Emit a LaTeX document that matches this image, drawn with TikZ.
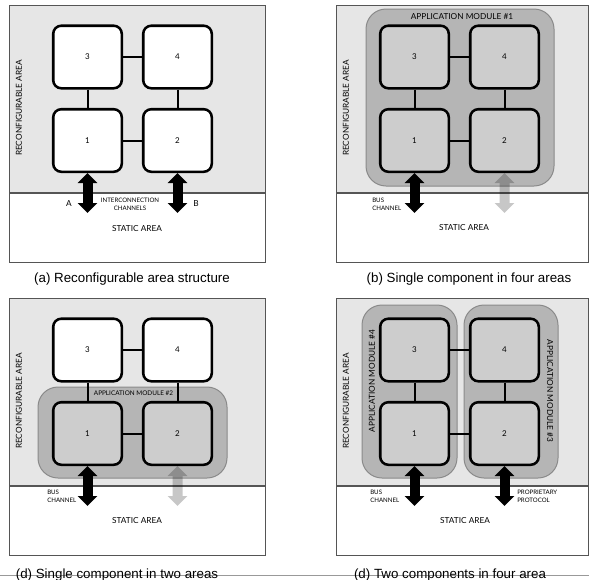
\documentclass[tikz,border=0pt]{standalone}
\usepackage{fontspec}
\setmainfont{Lato}
\newfontfamily\capfont{Liberation Sans}
\usetikzlibrary{arrows.meta}

\definecolor{areagray}{HTML}{E6E6E6}
\definecolor{modgray}{HTML}{B5B5B5}
\definecolor{cellgray}{HTML}{CDCDCD}
\definecolor{modline}{HTML}{8A8A8A}
\definecolor{frameline}{HTML}{555555}

\tikzset{
  cell/.style={draw=black, line width=1.9pt, rounded corners=6pt,
    minimum width=51.4pt, minimum height=46.9pt, inner sep=0pt,
    font=\fontsize{6}{7}\selectfont, fill=white},
  cellon/.style={fill=cellgray},
  link/.style={line width=1.5pt},
  module/.style={draw=modline, line width=0.75pt, fill=modgray,
    rounded corners=15pt, inner sep=0pt},
  bus/.style={line width=7.5pt,
    {Triangle[width=14.25pt,length=7.5pt]}-{Triangle[width=14.25pt,length=7.5pt]}},
  tag/.style={font=\fontsize{6.2}{7}\selectfont, inner sep=0pt},
  small/.style={font=\fontsize{4.6}{5.8}\selectfont, inner sep=0pt, align=left},
  caption/.style={font=\capfont\fontsize{10}{12}\selectfont, inner sep=0pt},
  areaframe/.style={draw=frameline, line width=0.75pt},
}

% frame of one panel: reconfigurable (top) and static (bottom) areas
\newcommand\areaframe[1]{%
  \fill[areagray] (9.5,5.5) rectangle (#1,193);
  \draw[areaframe] (9.5,5.5) rectangle (#1,262);
  \draw[frameline, line width=1pt] (9.5,193) -- (#1,193);
  \node[tag, rotate=90] at (19,108) {RECONFIGURABLE AREA};
}

% the four tiles and their links; #1 prefix, #2 style of 3/4, #3 style of 1/2
\newcommand\cellgrid[3]{%
  \node[cell,#2] (#1c3) at (87.5,57) {3};
  \node[cell,#2] (#1c4) at (177.5,57) {4};
  \node[cell,#3] (#1c1) at (87.5,140.5) {1};
  \node[cell,#3] (#1c2) at (177.5,140.5) {2};
  \draw[link] (#1c3) -- (#1c4);
  \draw[link] (#1c3) -- (#1c1);
  \draw[link] (#1c4) -- (#1c2);
  \draw[link] (#1c1) -- (#1c2);
  \coordinate (#1e1) at (87.5,213);
  \coordinate (#1e2) at (177.5,213);
}

\begin{document}
\begin{tikzpicture}[x=0.75pt, y=-0.75pt]
\useasboundingbox (0,0) rectangle (589,579);

% ---------------- (a) ----------------
\begin{scope}
  \areaframe{265}
  \cellgrid{a}{}{}
  \draw[bus] (ac1.south) -- (ae1);
  \draw[bus] (ac2.south) -- (ae2);
  \node[tag] at (69,204) {A};
  \node[tag] at (196,204) {B};
  \node[small, align=center] at (130,204.5) {INTERCONNECTION\\CHANNELS};
  \node[tag] at (137,229) {STATIC AREA};
\end{scope}
\node[caption] (capa) at (132,279) {(a) Reconfigurable area structure};

% ---------------- (b) ----------------
\begin{scope}[shift={(327,0)}]
  \areaframe{261}
  \node[module, minimum width=141pt, minimum height=132.75pt] (bmod) at (133,97.5) {};
  \node[tag] at (135,17) {APPLICATION MODULE \#1};
  \cellgrid{b}{cellon}{cellon}
  \draw[bus] (bc1.south) -- (be1);
  \begin{scope}[transparency group, opacity=0.22]
    \draw[bus] (bc2.south) -- (be2);
  \end{scope}
  \node[small, anchor=west] at (45,204) {BUS\\CHANNEL};
  \node[tag] at (137,228) {STATIC AREA};
\end{scope}
\node[caption] (capb) at (469,279) {(b) Single component in four areas};

% ---------------- (d) single component, two areas ----------------
\begin{scope}[shift={(0,293)}]
  \areaframe{265}
  \node[module, minimum width=141.75pt, minimum height=68.25pt] (dmod) at (132.5,139.5) {};
  \node[small, font=\fontsize{4.8}{6}\selectfont] at (133.5,100) {APPLICATION MODULE \#2};
  \cellgrid{d}{}{cellon}
  \draw[bus] (dc1.south) -- (de1);
  \begin{scope}[transparency group, opacity=0.22]
    \draw[bus] (dc2.south) -- (de2);
  \end{scope}
  \node[small, anchor=west] at (47,203) {BUS\\CHANNEL};
  \node[tag] at (137,228) {STATIC AREA};
\end{scope}

% ---------------- (d) two components, four areas ----------------
\begin{scope}[shift={(327,293)}]
  \areaframe{261}
  \node[module, minimum width=71.25pt, minimum height=129.75pt] (emod4) at (82.5,98.5) {};
  \node[module, minimum width=70.5pt, minimum height=129.75pt] (emod3) at (184,98.5) {};
  \node[tag, rotate=90] at (45,88) {APPLICATION MODULE \#4};
  \node[tag, rotate=-90] at (223,98) {APPLICATION MODULE \#3};
  \cellgrid{e}{cellon}{cellon}
  \draw[bus] (ec1.south) -- (ee1);
  \draw[bus] (ec2.south) -- (ee2);
  \node[small, anchor=west] at (43,203) {BUS\\CHANNEL};
  \node[small, anchor=west] at (190,203) {PROPRIETARY\\PROTOCOL};
  \node[tag] at (138,228) {STATIC AREA};
\end{scope}

% rule under the lower row, captions set over it
\draw[black!40, line width=0.6pt] (0,575) -- (589,575);
\node[caption, anchor=base] (capd) at (117,578) {(d) Single component in two areas};
\node[caption, anchor=base] (cape) at (450,578) {(d) Two components in four area};
\end{tikzpicture}
\end{document}
